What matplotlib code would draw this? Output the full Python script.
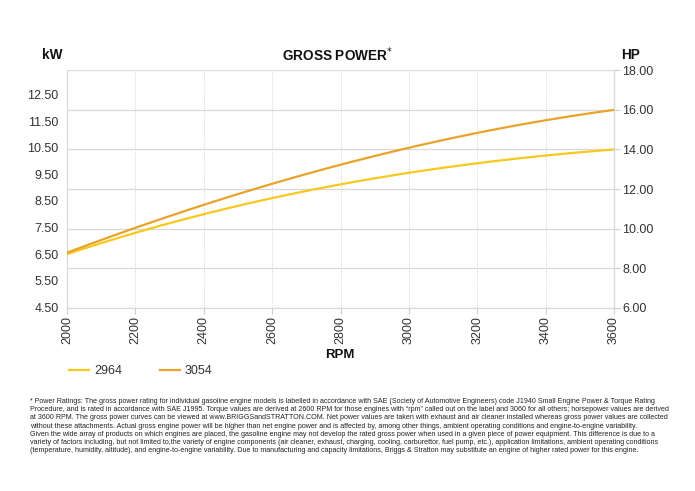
import matplotlib
matplotlib.use("Agg")
import matplotlib.pyplot as plt
import numpy as np

plt.rcParams['font.family'] = ['Liberation Sans', 'DejaVu Sans']

rpm = [2000, 2200, 2400, 2600, 2800, 3000, 3200, 3400, 3600]
hp_2964 = [8.71, 9.82, 10.69, 11.53, 12.29, 12.79, 13.30, 13.68, 14.00]
hp_3054 = [8.79, 10.05, 11.19, 12.24, 13.25, 14.10, 14.81, 15.45, 16.00]
series_names = ["2964", "3054"]
series_colors = ["#F7C81E", "#E9A22A"]

hp_ticks = [6, 8, 10, 12, 14, 16, 18]
kw_ticks = [4.5, 5.5, 6.5, 7.5, 8.5, 9.5, 10.5, 11.5, 12.5]
KW_TO_HP = 1.341

fig = plt.figure(figsize=(6.95, 4.91), dpi=100)
ax = fig.add_axes([67/695, 1-308/491, (614-67)/695, (308-70)/491])

xs = np.linspace(rpm[0], rpm[-1], 200)
for vals, name, col in zip([hp_2964, hp_3054], series_names, series_colors):
    c = np.polyfit(rpm, vals, 3)
    ax.plot(xs, np.polyval(c, xs), color=col, lw=1.6, label=name, zorder=3)

ax.set_xlim(2000, 3600)
ax.set_ylim(6, 18)
ax.set_xticks(rpm)
ax.set_xticklabels([str(r) for r in rpm], rotation=90, fontsize=9, color="#333333")
ax.set_yticks(hp_ticks)
ax.set_yticklabels([f"{v:.2f}" for v in hp_ticks], fontsize=9, color="#333333")
ax.tick_params(axis='x', length=4, color="#cccccc", pad=2)
ax.grid(axis='y', color="#d9d9d9", lw=0.9)
ax.grid(axis='x', color="#d0d0d0", lw=0.7, ls=(0, (1, 1.5)))
for s in ax.spines.values():
    s.set_color("#d9d9d9")
    s.set_linewidth(0.9)
ax.spines['top'].set_visible(False)

ax2 = ax.twinx()
ax2.set_ylim(6 / KW_TO_HP, 18 / KW_TO_HP)
ax2.set_yticks(kw_ticks)
ax2.set_yticklabels([f"{v:.2f}" for v in kw_ticks], fontsize=9, color="#333333")
for s in ax2.spines.values():
    s.set_visible(False)

# HP on the right, kW on the left
ax.yaxis.tick_right()
ax.tick_params(axis='y', which='both', left=False, labelleft=False, right=True,
               labelright=True, length=4, color="#cccccc", pad=2)
ax2.yaxis.tick_left()
ax2.tick_params(axis='y', which='both', right=False, labelright=False, left=True,
                labelleft=True, length=0, pad=6)

fig.text(338/695, 1-55/491, "GROSS POWER$^{*}$", ha='center', va='center',
         fontsize=9.8, fontweight='bold', color="#111111")
fig.text(52/695, 1-55/491, "kW", ha='center', va='center', fontsize=9.8,
         fontweight='bold', color="#111111")
fig.text(630/695, 1-55/491, "HP", ha='center', va='center', fontsize=9.8,
         fontweight='bold', color="#111111")
fig.text(340/695, 1-355/491, "RPM", ha='center', va='center', fontsize=9.5,
         fontweight='bold', color="#111111")

handles, labels = ax.get_legend_handles_labels()
fig.legend(handles, labels, loc='center left', bbox_to_anchor=(58/695, 1-371/491),
           ncol=2, frameon=False, fontsize=9, handlelength=1.6, handletextpad=0.4,
           columnspacing=3.0, labelcolor="#333333")

foot = [
    "* Power Ratings: The gross power rating for individual gasoline engine models is labelled in accordance with SAE (Society of Automotive Engineers) code J1940 Small Engine Power & Torque Rating",
    "Procedure, and is rated in accordance with SAE J1995. Torque values are derived at 2600 RPM for those engines with \u201crpm\u201d called out on the label and 3060 for all others; horsepower values are derived",
    "at 3600 RPM. The gross power curves can be viewed at www.BRIGGSandSTRATTON.COM. Net power values are taken with exhaust and air cleaner installed whereas gross power values are collected",
    "without these attachments. Actual gross engine power will be higher than net engine power and is affected by, among other things, ambient operating conditions and engine-to-engine variability.",
    "Given the wide array of products on which engines are placed, the gasoline engine may not develop the rated gross power when used in a given piece of power equipment. This difference is due to a",
    "variety of factors including, but not limited to,the variety of engine components (air cleaner, exhaust, charging, cooling, carburettor, fuel pump, etc.), application limitations, ambient operating conditions",
    "(temperature, humidity, altitude), and engine-to-engine variability. Due to manufacturing and capacity limitations, Briggs & Stratton may substitute an engine of higher rated power for this engine.",
]
for i, line in enumerate(foot):
    fig.text(30/695, 1-(401.5 + i*8.2)/491, line, ha='left', va='center',
             fontsize=5.1, color="#222222")

fig.savefig("out.png", dpi=100)
